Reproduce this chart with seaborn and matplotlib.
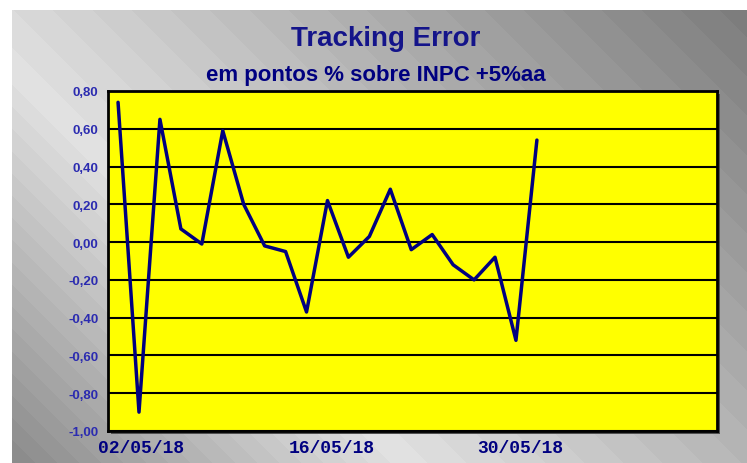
import numpy as np
import pandas as pd
import matplotlib
matplotlib.use("Agg")
import matplotlib.pyplot as plt
import seaborn as sns
from matplotlib.patches import Rectangle

# ---- data ----
dates = ["02/05/18", "03/05/18", "04/05/18", "07/05/18", "08/05/18", "09/05/18",
         "10/05/18", "11/05/18", "14/05/18", "15/05/18", "16/05/18", "17/05/18",
         "18/05/18", "21/05/18", "22/05/18", "23/05/18", "24/05/18", "25/05/18",
         "28/05/18", "29/05/18", "30/05/18"]
tracking_error = [0.74, -0.90, 0.65, 0.07, -0.01, 0.59, 0.20, -0.02, -0.05, -0.37,
                  0.22, -0.08, 0.03, 0.28, -0.04, 0.04, -0.12, -0.20, -0.08, -0.52, 0.54]
x_tick_labels = ["02/05/18", "16/05/18", "30/05/18"]
y_ticks = [0.8, 0.6, 0.4, 0.2, 0.0, -0.2, -0.4, -0.6, -0.8, -1.0]

df = pd.DataFrame({"idx": np.arange(len(dates)), "te": tracking_error})

W, H = 747, 464
sns.set_theme(style="white")
plt.rcParams["font.family"] = ["Liberation Sans", "DejaVu Sans"]

fig = plt.figure(figsize=(W / 100, H / 100), dpi=100)
fig.patch.set_facecolor("white")

# ---- gradient background ----
bx0, by0 = 12, 11
bg_ax = fig.add_axes([bx0 / W, 0, 1 - bx0 / W, 1 - by0 / H], zorder=-10)
xs = np.arange(bx0, W)
ys = np.arange(by0, H)
XX, YY = np.meshgrid(xs, ys)
d = XX - YY
val = np.interp(d, [-460, -60, 740], [138, 228, 126])
val = np.floor(val / 5) * 5
img = np.dstack([val, val, val]) / 255.0
bg_ax.imshow(img, aspect="auto", interpolation="nearest")
bg_ax.axis("off")

# ---- plot area ----
L, R, T, B = 108, 717, 92, 432
# shadow
fig.patches.append(Rectangle(((L + 3) / W, 1 - (B + 3) / H), (R - L) / W, (B - T) / H,
                             transform=fig.transFigure, facecolor="#505050",
                             edgecolor="none", zorder=0))
ax = fig.add_axes([L / W, 1 - B / H, (R - L) / W, (B - T) / H], zorder=1)
ax.set_facecolor("#ffff00")

for yv in y_ticks:
    ax.axhline(yv, color="black", lw=1.5, zorder=1)

sns.lineplot(data=df, x="idx", y="te", ax=ax, color="#000080", lw=2.5, zorder=3,
             legend=False)

ax.set_ylim(-1.0, 0.8)
ax.set_xlim(-0.48, 28.6)
ax.set_yticks(y_ticks)
ax.set_yticklabels([f"{v:.2f}".replace(".", ",") for v in y_ticks],
                   fontsize=9.5, fontweight="bold", color="#2b2bb0")
ax.set_xticks([1.1, 10.2, 19.2])
ax.set_xticklabels(x_tick_labels, fontsize=13, fontweight="bold", color="#000080",
                   family=["Liberation Mono", "DejaVu Sans Mono"])
ax.tick_params(axis="y", length=0, pad=7)
ax.tick_params(axis="x", length=0, pad=6)
ax.set_xlabel("")
ax.set_ylabel("")
for s in ax.spines.values():
    s.set_visible(True)
    s.set_color("black")
    s.set_linewidth(2)

# ---- titles ----
fig.text(386 / W, 1 - 39 / H, "Tracking Error", ha="center", va="center",
         fontsize=20, fontweight="bold", color="#14148a")
fig.text(376 / W, 1 - 75 / H, "em pontos % sobre INPC +5%aa", ha="center", va="center",
         fontsize=16, fontweight="bold", color="#000080")

fig.savefig("out.png", dpi=100)
